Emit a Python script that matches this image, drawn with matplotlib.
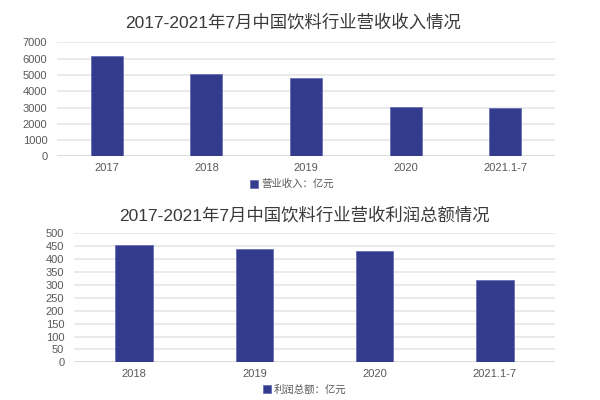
import matplotlib
matplotlib.use("Agg")
import matplotlib.pyplot as plt
import numpy as np

plt.rcParams['font.family'] = ['Liberation Sans', 'Noto Sans CJK SC', 'DejaVu Sans']

# Data
rev_categories = ["2017", "2018", "2019", "2020", "2021.1-7"]
rev_values = [6140, 5090, 4820, 3020, 2980]
rev_ticks = [0, 1000, 2000, 3000, 4000, 5000, 6000, 7000]
rev_title = "2017-2021年7月中国饮料行业营收收入情况"
rev_legend = "营业收入：亿元"

prof_categories = ["2018", "2019", "2020", "2021.1-7"]
prof_values = [452, 437, 429, 319]
prof_ticks = [0, 50, 100, 150, 200, 250, 300, 350, 400, 450, 500]
prof_title = "2017-2021年7月中国饮料行业营收利润总额情况"
prof_legend = "利润总额：亿元"

BAR = "#333b8d"
EDGE = "#6a6fb8"
GRID = "#e8e8e8"
TICK = "#595959"
TITLE = "#3a3a3a"

fig = plt.figure(figsize=(6, 4), dpi=100)
fig.patch.set_facecolor("white")


def draw(ax, cats, vals, ticks, width):
    x = np.arange(len(cats))
    ax.set_axisbelow(True)
    for t in ticks[1:]:
        ax.axhline(t, color=GRID, lw=1.3, zorder=0)
    ax.axhline(0, color="#d9d9d9", lw=1.3, zorder=1)
    bars = ax.bar(x, vals, width=width, color=BAR, edgecolor=EDGE, linewidth=0.6, zorder=2)
    ax.set_xlim(-0.5, len(cats) - 0.5)
    ax.set_ylim(0, ticks[-1])
    ax.set_yticks(ticks)
    ax.set_yticklabels([str(t) for t in ticks])
    ax.set_xticks(x)
    ax.set_xticklabels(cats)
    for s in ax.spines.values():
        s.set_visible(False)
    ax.tick_params(axis="both", length=0, labelsize=8, colors=TICK)
    ax.tick_params(axis="y", pad=7)
    ax.tick_params(axis="x", pad=5)
    return bars


ax1 = fig.add_axes([0.095, 0.609, 0.83, 0.285])
b1 = draw(ax1, rev_categories, rev_values, rev_ticks, 0.32)
fig.text(0.489, 0.945, rev_title, ha="center", va="center", fontsize=12.5, color=TITLE)
fig.legend([b1], [rev_legend], loc="center", bbox_to_anchor=(0.487, 0.54),
           frameon=False, fontsize=7.5, handlelength=0.8, handleheight=0.8,
           handletextpad=0.3, labelcolor=TICK)

ax2 = fig.add_axes([0.1233, 0.094, 0.8017, 0.3235])
b2 = draw(ax2, prof_categories, prof_values, prof_ticks, 0.31)
fig.text(0.508, 0.462, prof_title, ha="center", va="center", fontsize=12.5, color=TITLE)
fig.legend([b2], [prof_legend], loc="center", bbox_to_anchor=(0.508, 0.025),
           frameon=False, fontsize=7.5, handlelength=0.8, handleheight=0.8,
           handletextpad=0.3, labelcolor=TICK)

fig.savefig("out.png", dpi=100, facecolor="white")
